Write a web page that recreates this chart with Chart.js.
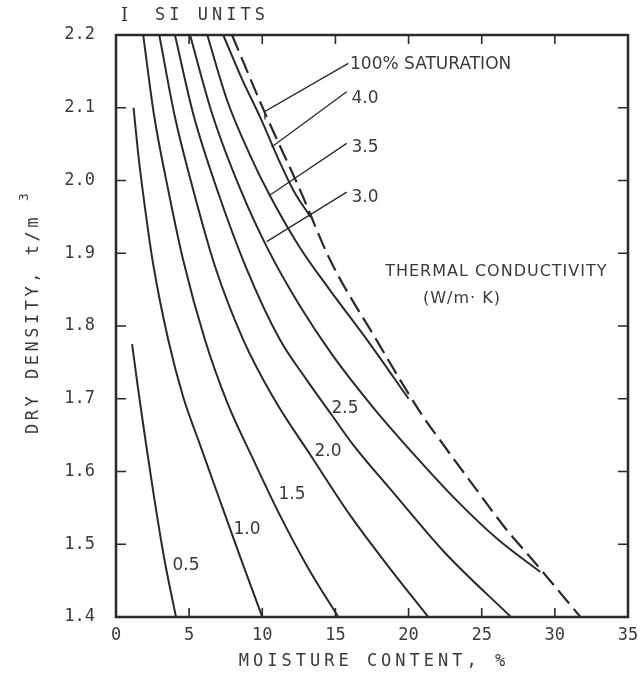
<!DOCTYPE html>
<html>
<head>
<meta charset="utf-8">
<script src="https://cdn.jsdelivr.net/npm/chart.js@4.4.0/dist/chart.umd.min.js"></script>
<style>
  html, body { margin: 0; padding: 0; background: #fff; }
  #wrap { width: 641px; height: 677px; }
</style>
</head>
<body>
<div id="wrap"><canvas id="chart" width="641" height="677"></canvas></div>
<script>
// axis ticks
const xTicks = [0, 5, 10, 15, 20, 25, 30, 35];
const yTicks = [1.4, 1.5, 1.6, 1.7, 1.8, 1.9, 2.0, 2.1, 2.2];

// thermal conductivity curves (W/m-K), [moisture %, dry density t/m3]
const k05 = [[1.1, 1.775], [1.5, 1.715], [2.0, 1.645], [2.6, 1.565], [3.3, 1.48], [4.1, 1.40]];
const k10 = [[1.2, 2.10], [1.5, 2.04], [1.82, 1.987], [2.5, 1.89], [3.57, 1.781], [4.6, 1.702], [5.74, 1.637], [7.0, 1.566], [8.5, 1.482], [10.0, 1.40]];
const k15 = [[1.86, 2.20], [2.6, 2.09], [3.57, 1.987], [4.6, 1.89], [6.08, 1.781], [7.6, 1.695], [9.3, 1.62], [11.2, 1.54], [13.2, 1.465], [15.2, 1.40]];
const k20 = [[2.96, 2.20], [4.0, 2.09], [5.28, 1.987], [6.8, 1.88], [8.7, 1.781], [10.8, 1.70], [13.38, 1.62], [16.0, 1.54], [18.6, 1.47], [21.35, 1.40]];
const k25 = [[4.03, 2.20], [5.3, 2.09], [6.92, 1.987], [8.9, 1.88], [11.21, 1.781], [13.0, 1.727], [14.7, 1.679], [16.2, 1.637], [19.0, 1.57], [22.5, 1.488], [27.0, 1.40]];
const k30 = [[5.06, 2.20], [6.6, 2.09], [8.52, 1.987], [10.4, 1.905], [12.5, 1.83], [14.8, 1.76], [17.5, 1.69], [20.3, 1.625], [23.3, 1.56], [26.2, 1.505], [29.0, 1.462]];
const k35 = [[6.24, 2.20], [7.6, 2.11], [9.16, 2.035], [10.5, 1.98], [12.5, 1.91], [14.6, 1.85], [17.2, 1.78], [20.0, 1.70]];
const k40 = [[7.33, 2.20], [8.6, 2.14], [9.9, 2.085], [11.2, 2.025], [12.17, 1.985], [13.3, 1.95]];
// 100% saturation line
const sat100 = [[7.93, 2.20], [10.18, 2.093], [12.58, 1.987], [14.63, 1.891], [17.8, 1.781], [20.78, 1.682], [22.15, 1.643], [24.42, 1.581], [26.7, 1.52], [28.5, 1.478], [31.75, 1.40]];

const INK = '#2a2a2a';
const TXT = '#3a3a3a';
const MONO = '"DejaVu Sans Mono", monospace';
const SANS = '"DejaVu Sans", sans-serif';

function curve(pts, dashed) {
    return {
        data: pts.map(p => ({ x: p[0], y: p[1] })),
        showLine: true,
        pointRadius: 0,
        borderColor: INK,
        borderWidth: dashed ? 2.2 : 2,
        borderDash: dashed ? [17, 7] : [],
        cubicInterpolationMode: 'monotone',
        fill: false
    };
}

// box, inward ticks, labels and leaders
const decor = {
    id: 'decor',
    afterDraw(chart) {
        const ctx = chart.ctx;
        const xs = chart.scales.x, ys = chart.scales.y;
        const a = chart.chartArea;
        const X = v => xs.getPixelForValue(v);
        const Y = v => ys.getPixelForValue(v);
        ctx.save();

        ctx.strokeStyle = INK;
        ctx.lineWidth = 2.5;
        ctx.strokeRect(a.left, a.top, a.right - a.left, a.bottom - a.top);

        ctx.lineWidth = 1.6;
        ctx.beginPath();
        xTicks.slice(1, -1).forEach(v => {
            ctx.moveTo(X(v), a.bottom); ctx.lineTo(X(v), a.bottom - 9);
            ctx.moveTo(X(v), a.top); ctx.lineTo(X(v), a.top + 9);
        });
        yTicks.slice(1, -1).forEach(v => {
            ctx.moveTo(a.left, Y(v)); ctx.lineTo(a.left + 10, Y(v));
            ctx.moveTo(a.right, Y(v)); ctx.lineTo(a.right - 10, Y(v));
        });
        ctx.stroke();

        // leaders
        ctx.lineWidth = 1.3;
        ctx.beginPath();
        ctx.moveTo(X(15.88), Y(2.161)); ctx.lineTo(X(10.18), Y(2.095)); ctx.lineTo(X(10.18), Y(2.084));
        ctx.moveTo(X(15.77), Y(2.122)); ctx.lineTo(X(10.64), Y(2.046));
        ctx.moveTo(X(15.77), Y(2.051)); ctx.lineTo(X(10.53), Y(1.98));
        ctx.moveTo(X(15.77), Y(1.984)); ctx.lineTo(X(10.3), Y(1.916));
        ctx.stroke();

        ctx.fillStyle = TXT;
        ctx.textBaseline = 'middle';

        ctx.font = '17px ' + SANS;
        ctx.textAlign = 'left';
        ctx.fillText('100% SATURATION', X(16.0), Y(2.159));
        ctx.fillText('4.0', X(16.1), Y(2.112));
        ctx.fillText('3.5', X(16.1), Y(2.045));
        ctx.fillText('3.0', X(16.1), Y(1.976));

        ctx.textAlign = 'center';
        ctx.font = '16px ' + SANS;
        ctx.letterSpacing = '1px';
        ctx.fillText('THERMAL CONDUCTIVITY', X(26.0), Y(1.874));
        ctx.fillText('(W/m\u00b7 K)', X(23.65), Y(1.838));
        ctx.letterSpacing = '0px';

        ctx.font = '17px ' + SANS;
        ctx.fillText('2.5', X(15.65), Y(1.687));
        ctx.fillText('2.0', X(14.49), Y(1.627));
        ctx.fillText('1.5', X(12.03), Y(1.568));
        ctx.fillText('1.0', X(8.95), Y(1.52));
        ctx.fillText('0.5', X(4.78), Y(1.471));

        // axis titles, letter spaced
        ctx.font = '17px ' + MONO;
        ctx.letterSpacing = '4px';
        ctx.textAlign = 'center';
        ctx.fillText('MOISTURE CONTENT, %', (a.left + a.right) / 2 + 2, 662);
        ctx.textAlign = 'left';
        ctx.fillText('SI UNITS', 155, 16);
        ctx.letterSpacing = '0px';
        ctx.font = '18px "DejaVu Serif", serif';
        ctx.fillText('I', 121, 16);

        ctx.translate(34, 318);
        ctx.rotate(-Math.PI / 2);
        ctx.font = '17px ' + MONO;
        ctx.letterSpacing = '3.5px';
        ctx.textAlign = 'center';
        ctx.fillText('DRY DENSITY, t/m', -6, 0);
        ctx.letterSpacing = '0px';
        ctx.font = '13px ' + MONO;
        ctx.textAlign = 'left';
        ctx.fillText('3', 117, -9);
        ctx.restore();
    }
};

new Chart(document.getElementById('chart'), {
    type: 'scatter',
    data: {
        datasets: [
            curve(k05), curve(k10), curve(k15), curve(k20),
            curve(k25), curve(k30), curve(k35), curve(k40),
            curve(sat100, true)
        ]
    },
    options: {
        responsive: false,
        animation: false,
        devicePixelRatio: 1,
        layout: { padding: { top: 35, right: 13, left: 0, bottom: 0 } },
        plugins: { legend: { display: false }, tooltip: { enabled: false } },
        scales: {
            x: {
                type: 'linear', min: 0, max: 35,
                afterBuildTicks: s => { s.ticks = xTicks.map(v => ({ value: v })); },
                afterFit: s => { s.height = 60; },
                grid: { display: false },
                border: { display: false },
                ticks: { autoSkip: false, maxRotation: 0, padding: 0, color: TXT, font: { family: MONO, size: 17 } }
            },
            y: {
                type: 'linear', min: 1.4, max: 2.2,
                afterBuildTicks: s => { s.ticks = yTicks.map(v => ({ value: v })); },
                afterFit: s => { s.width = 116; },
                grid: { display: false },
                border: { display: false },
                ticks: { autoSkip: false, padding: 13, color: TXT, font: { family: MONO, size: 17 },
                         callback: v => v.toFixed(1) }
            }
        }
    },
    plugins: [decor]
});
</script>
</body>
</html>
